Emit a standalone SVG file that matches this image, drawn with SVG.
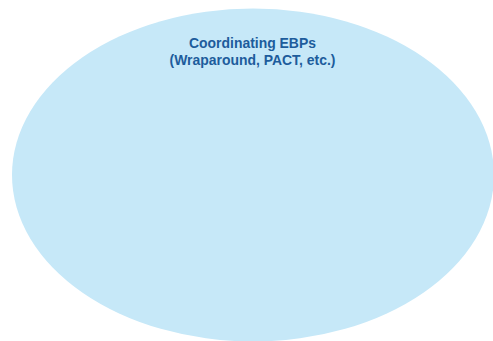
<svg xmlns="http://www.w3.org/2000/svg" width="493" height="341" viewBox="0 0 493 341">
<style>
.lbl{font-family:"Liberation Sans",Arial,sans-serif;font-weight:bold;font-size:15px;fill:#1d5c9c;text-anchor:middle}
</style>
<rect width="493" height="341" fill="#ffffff"/>
<g id="node-ebps">
<ellipse cx="253" cy="175" rx="241" ry="166.5" fill="#c6e8f8"/>
<g transform="translate(252.5,0) scale(0.93,1)">
<text class="lbl" x="0" y="48">Coordinating EBPs</text>
<text class="lbl" x="0" y="65.5">(Wraparound, PACT, etc.)</text>
</g>
</g>
<g id="connectors"></g>
</svg>
